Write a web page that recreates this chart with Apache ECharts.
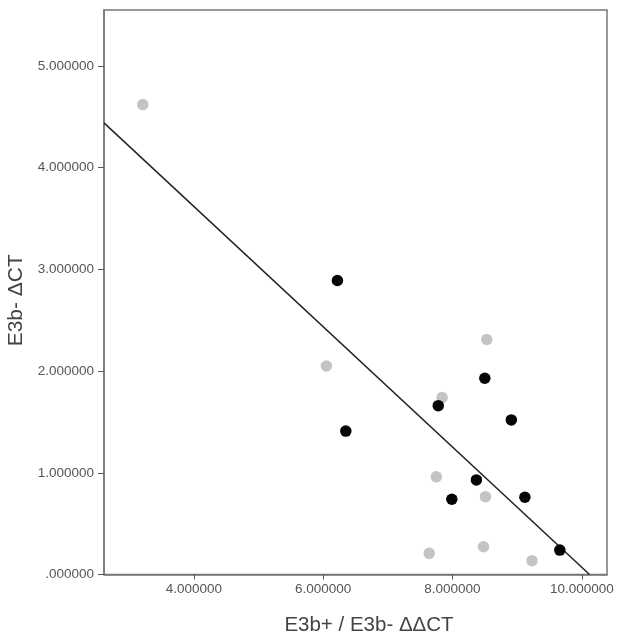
<!DOCTYPE html>
<html>
<head>
<meta charset="utf-8">
<script src="https://cdn.jsdelivr.net/npm/echarts@6/dist/echarts.min.js"></script>
<style>html,body{margin:0;padding:0;background:#fff}#c{width:624px;height:640px}</style>
</head>
<body>
<div id="c"></div>
<script>
// Grey group
const greyX = [3.21, 6.05, 8.53, 7.84, 7.75, 8.51, 8.48, 7.64, 9.23];
const greyY = [4.62, 2.05, 2.31, 1.74, 0.96, 0.765, 0.273, 0.208, 0.136];
// Black group
const blackX = [6.22, 8.50, 7.78, 8.91, 6.35, 8.37, 7.99, 9.12, 9.66];
const blackY = [2.89, 1.93, 1.66, 1.52, 1.41, 0.93, 0.74, 0.76, 0.24];
// Fit line end points
const fitX = [2.61, 10.12];
const fitY = [4.44, 0];
// Tick values
const xTicks = [4, 6, 8, 10];
const yTicks = [0, 1, 2, 3, 4, 5];

const pairs = (xs, ys) => xs.map((x, i) => [x, ys[i]]);
const fmt = v => v === 0 ? '.000000' : Number(v).toFixed(6);

const chart = echarts.init(document.getElementById('c'));
chart.setOption({
  animation: false,
  backgroundColor: '#fff',
  grid: { left: 104, top: 10, right: 17, bottom: 65.5, containLabel: false, outerBoundsMode: 'none', show: true, borderColor: '#777', borderWidth: 1.5, backgroundColor: 'transparent' },
  xAxis: {
    type: 'value', min: 2.61, max: 10.39,
    name: 'E3b+ / E3b- \u0394\u0394CT', nameLocation: 'middle', nameGap: 40,
    nameTextStyle: { fontFamily: 'Liberation Sans', fontSize: 20.5, color: '#444', padding: [0, 0, 0, 27] },
    splitLine: { show: false },
    axisLine: { show: true, lineStyle: { color: '#777', width: 1.5 } },
    axisTick: { show: true, length: 5, customValues: xTicks, lineStyle: { color: '#555' } },
    axisLabel: { customValues: xTicks, formatter: fmt, fontFamily: 'Liberation Sans', fontSize: 13.5, color: '#555', margin: 8 }
  },
  yAxis: {
    type: 'value', min: 0, max: 5.55,
    name: 'E3b- \u0394CT', nameLocation: 'middle', nameGap: 76, nameRotate: 90,
    nameTextStyle: { fontFamily: 'Liberation Sans', fontSize: 21, color: '#444', padding: [0, 16, 0, 0] },
    splitLine: { show: false },
    axisLine: { show: true, lineStyle: { color: '#777', width: 1.5 } },
    axisTick: { show: true, length: 6, customValues: yTicks, lineStyle: { color: '#555' } },
    axisLabel: { customValues: yTicks, formatter: fmt, fontFamily: 'Liberation Sans', fontSize: 13.5, color: '#555', margin: 10 }
  },
  series: [
    { type: 'line', data: pairs(fitX, fitY), symbol: 'none', lineStyle: { color: '#222', width: 1.5 }, z: 1 },
    { type: 'scatter', data: pairs(greyX, greyY), symbolSize: 11.5, itemStyle: { color: '#c4c4c4', opacity: 1 }, z: 2 },
    { type: 'scatter', data: pairs(blackX, blackY), symbolSize: 11.5, itemStyle: { color: '#050505', opacity: 1 }, z: 3 }
  ]
});
</script>
</body>
</html>
